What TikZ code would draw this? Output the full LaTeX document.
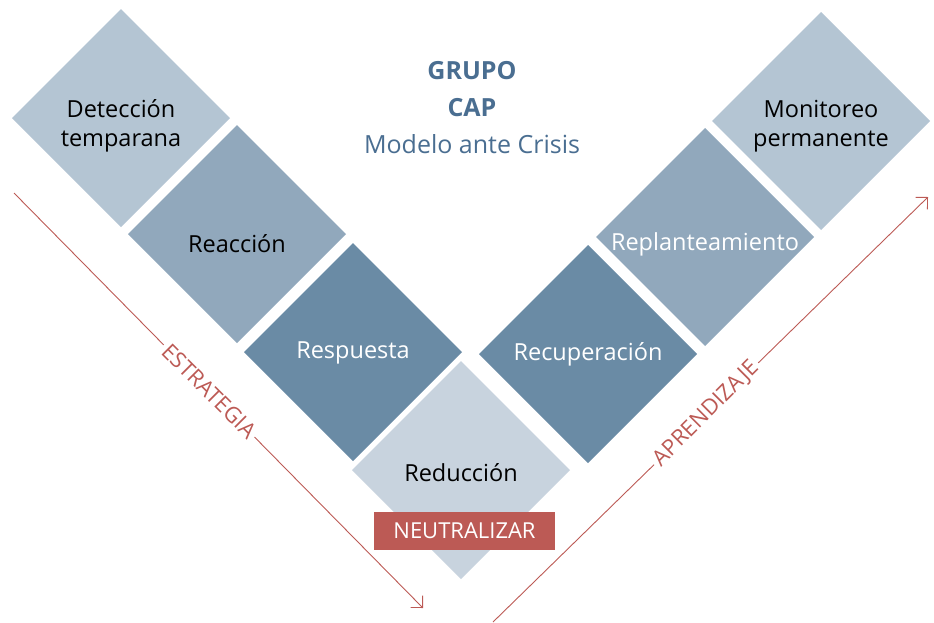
\documentclass[tikz,border=0pt]{standalone}
\usepackage{fontspec}
\setmainfont{Open Sans}
\usetikzlibrary{shapes.geometric, arrows.meta, positioning, calc}
\definecolor{palesteel}{HTML}{B4C5D3}
\definecolor{midsteel}{HTML}{91A8BC}
\definecolor{darksteel}{HTML}{6A8BA5}
\definecolor{fogsteel}{HTML}{C8D3DE}
\definecolor{titleblue}{HTML}{4A6E91}
\definecolor{crisisred}{HTML}{BC5A55}

\begin{document}
\begin{tikzpicture}[
        x=1pt, y=-1pt,
        stage/.style={diamond, aspect=1, minimum width=218pt, minimum height=218pt, inner sep=0pt, outer sep=0pt},
        pale/.style={stage, fill=palesteel},
        mid/.style={stage, fill=midsteel},
        deep/.style={stage, fill=darksteel},
        fog/.style={stage, fill=fogsteel},
        stagetext/.style={align=center, inner sep=0pt, font=\fontsize{23.5}{29}\selectfont},
        phase/.style={font=\fontsize{22}{24}\selectfont, text=crisisred, inner sep=3pt},
        trend/.style={draw=crisisred, line width=0.9pt},
        tip/.style={-{Straight Barb[length=8.5pt, width=17pt]}}
    ]
    \useasboundingbox (0,0) rectangle (934,622);

    % left branch
    \node[pale] (deteccion) at (121,118) {};
    \node[stagetext] (deteccion-txt) at ([yshift=-8pt]deteccion.center) {Detección\\temparana};
    \node[mid] (reaccion) at (237,234) {};
    \node[stagetext] (reaccion-txt) at ([yshift=-10pt]reaccion.center) {Reacción};
    \node[deep] (respuesta) at (353,352) {};
    \node[stagetext, text=white] (respuesta-txt) at ([yshift=-1pt]respuesta.center) {Respuesta};
    \node[fog] (reduccion) at (461,470) {};
    \node[stagetext] (reduccion-txt) at ([yshift=-3pt]reduccion.center) {Reducción};
    % right branch
    \node[deep] (recuperacion) at (588,354) {};
    \node[stagetext, text=white] (recuperacion-txt) at (recuperacion.center) {Recuperación};
    \node[mid] (replanteo) at (705,237) {};
    \node[stagetext, text=white] (replanteo-txt) at ([yshift=-7pt]replanteo.center) {Replanteamiento};
    \node[pale] (monitoreo) at (821,121) {};
    \node[stagetext] (monitoreo-txt) at ([yshift=-5pt]monitoreo.center) {Monitoreo\\permanente};

    \node[fill=crisisred, text=white, minimum width=181pt, minimum height=38pt, inner sep=0pt, font=\fontsize{22}{24}\selectfont] (neutralizar) at (464.5,531) {NEUTRALIZAR};

    \node[text=titleblue, align=center, font=\fontsize{25}{37}\selectfont] (titulo) at (472,108) {\textbf{GRUPO}\\\textbf{CAP}\\Modelo ante Crisis};

    % side arrows
    \coordinate (estart) at (14,193);
    \coordinate (eend) at (423,608);
    \node[phase, rotate=-45] (estrategia) at ($(estart)!0.477!(eend)$) {ESTRATEGIA};
    \draw[trend] (estart) -- (estrategia);
    \draw[trend, tip] (estrategia) -- (eend);

    \coordinate (astart) at (493,622);
    \coordinate (aend) at (928,197);
    \node[phase, rotate=45] (aprendizaje) at ($(astart)!0.49!(aend)$) {APRENDIZAJE};
    \draw[trend] (astart) -- (aprendizaje);
    \draw[trend, tip] (aprendizaje) -- (aend);
\end{tikzpicture}
\end{document}
